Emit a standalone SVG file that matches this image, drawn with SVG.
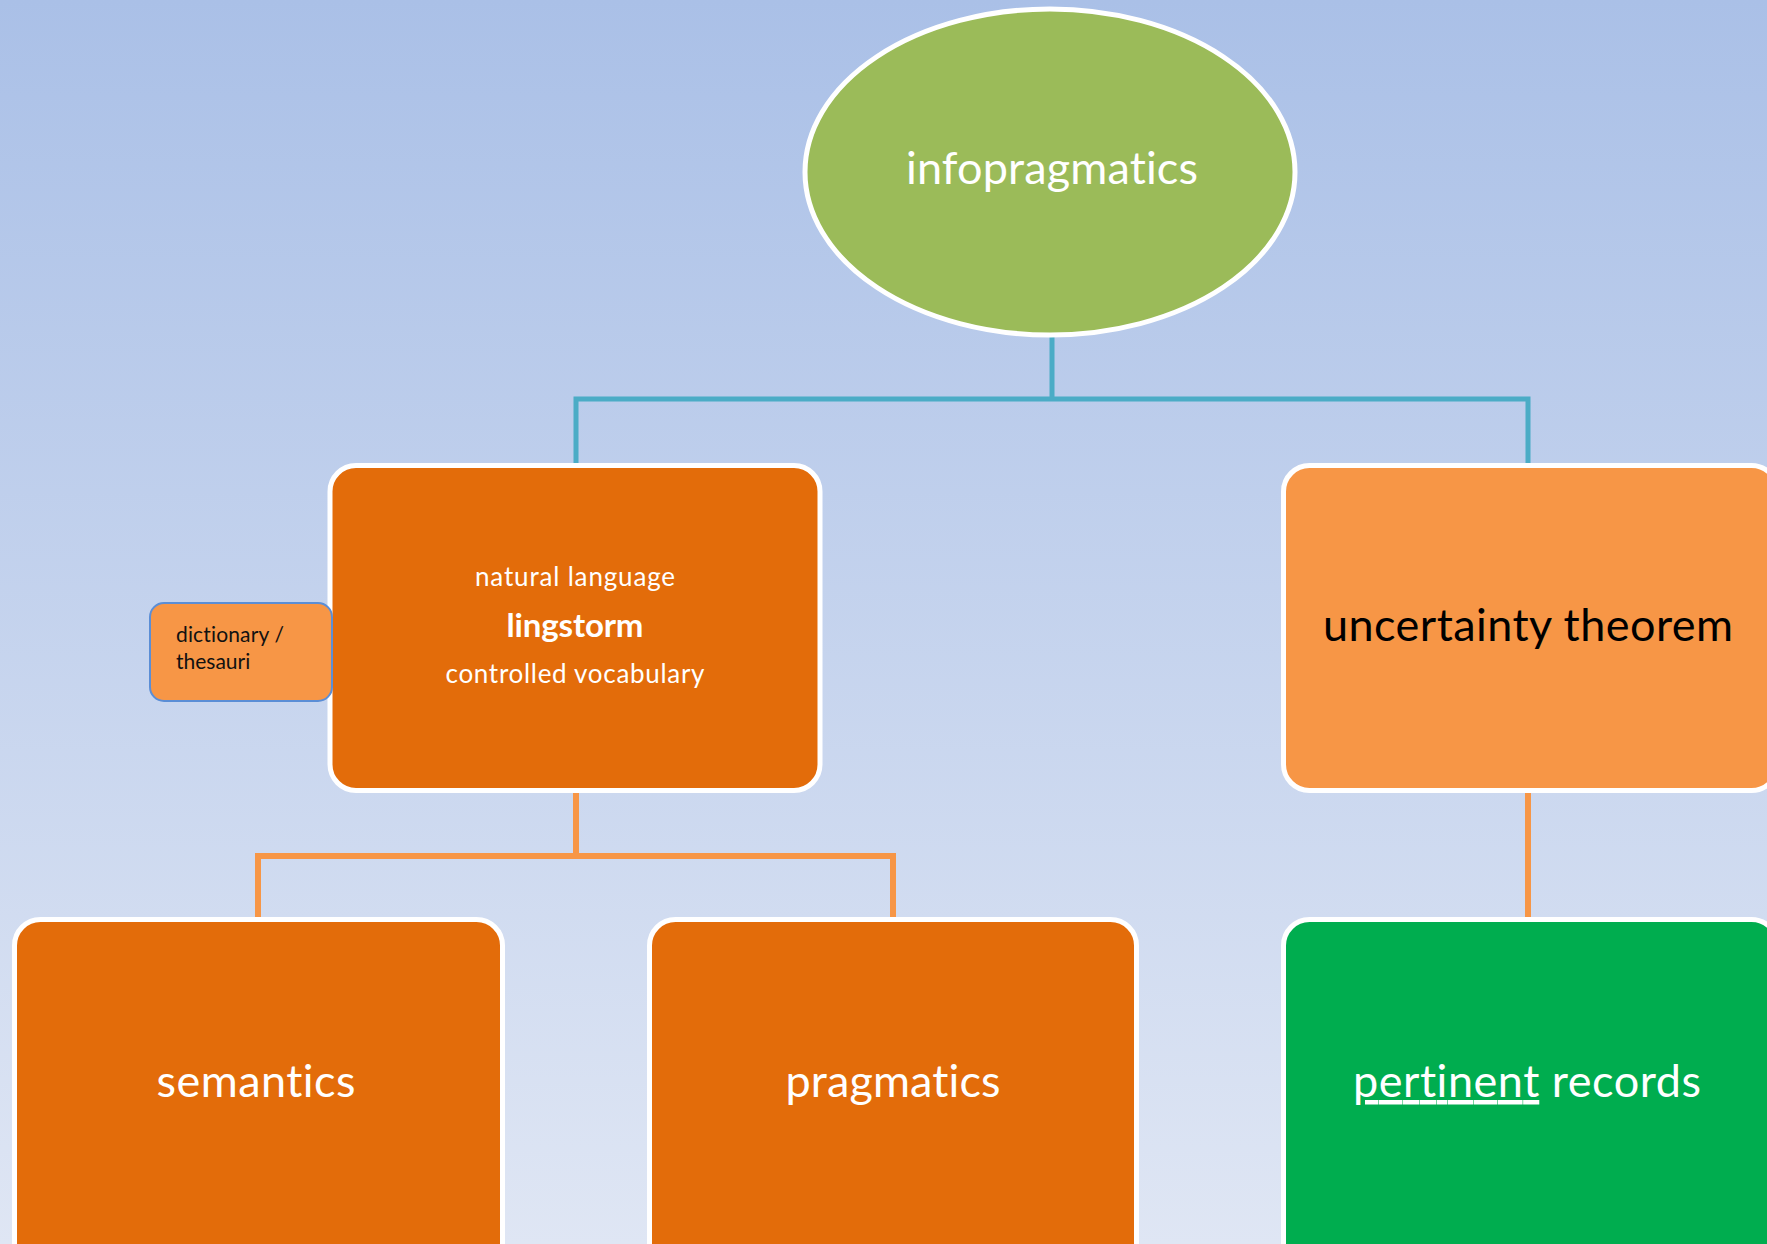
<svg xmlns="http://www.w3.org/2000/svg" width="1767" height="1244" viewBox="0 0 1767 1244">
<defs>
<linearGradient id="bg" x1="0" y1="0" x2="0" y2="1">
<stop offset="0" stop-color="#AAC0E7"/>
<stop offset="1" stop-color="#DFE6F4"/>
</linearGradient>
<style>
text, tspan{font-variant-ligatures:no-common-ligatures no-discretionary-ligatures no-historical-ligatures no-contextual;font-feature-settings:"liga" 0,"clig" 0,"dlig" 0,"calt" 0,"hlig" 0}
.box{stroke:#FFFFFF;stroke-width:5}
.dark{fill:#E36C0A}
.light{fill:#F79646}
.green{fill:#00AD4F}
.t{font-family:Lato,"Open Sans","Liberation Sans",sans-serif;text-anchor:middle}
.w{fill:#FFFFFF}
.blue{stroke:#4BACC6;stroke-width:5;fill:none}
.or{stroke:#F79646;stroke-width:6;fill:none}
</style>
</defs>
<rect x="0" y="0" width="1767" height="1244" fill="url(#bg)"/>
<g id="connectors">
<path class="blue" d="M1052,337 V399 M576,463 V399 H1528 V463"/>
<path class="or" d="M576,793 V856 M258,917 V856 H893 V917"/>
<path class="or" d="M1528,793 V917"/>
</g>
<g id="infopragmatics">
<ellipse cx="1050" cy="172" rx="245" ry="163" fill="#9BBB59" stroke="#FFFFFF" stroke-width="5"/>
<text class="t w" x="1052" y="184" font-size="45" textLength="292">infopragmatics</text>
</g>
<g id="lingstorm">
<rect class="box dark" x="330" y="465.5" width="490" height="325" rx="26"/>
<text class="t w" x="575" y="586" font-size="26" textLength="200">natural language</text>
<text class="t w" x="575" y="637" font-size="33" font-weight="bold" textLength="137">lingstorm</text>
<text class="t w" x="575" y="683" font-size="26" textLength="259">controlled vocabulary</text>
</g>
<g id="dictionary">
<rect x="150" y="603" width="182" height="98" rx="14" fill="#F79646" stroke="#5B8ED6" stroke-width="2"/>
<text x="176" y="642" font-family="Lato,'Open Sans','Liberation Sans',sans-serif" font-size="21" fill="#111111" textLength="108">dictionary /</text>
<text x="176" y="669" font-family="Lato,'Open Sans','Liberation Sans',sans-serif" font-size="21" fill="#111111">thesauri</text>
</g>
<g id="uncertainty">
<rect class="box light" x="1283.5" y="465.5" width="494" height="325" rx="26"/>
<text class="t" x="1528" y="641" font-size="45" fill="#000000" textLength="410">uncertainty theorem</text>
</g>
<g id="semantics">
<rect class="box dark" x="14.5" y="919.5" width="488" height="360" rx="26"/>
<text class="t w" x="256" y="1097" font-size="45" textLength="199">semantics</text>
</g>
<g id="pragmatics">
<rect class="box dark" x="649.5" y="919.5" width="487" height="360" rx="26"/>
<text class="t w" x="893" y="1097" font-size="45" textLength="215">pragmatics</text>
</g>
<g id="pertinent">
<rect class="box green" x="1283.5" y="919.5" width="494" height="360" rx="26"/>
<text class="t w" x="1527" y="1097" font-size="45" textLength="348"><tspan text-decoration="underline">pertinent</tspan> records</text>
</g>
</svg>
